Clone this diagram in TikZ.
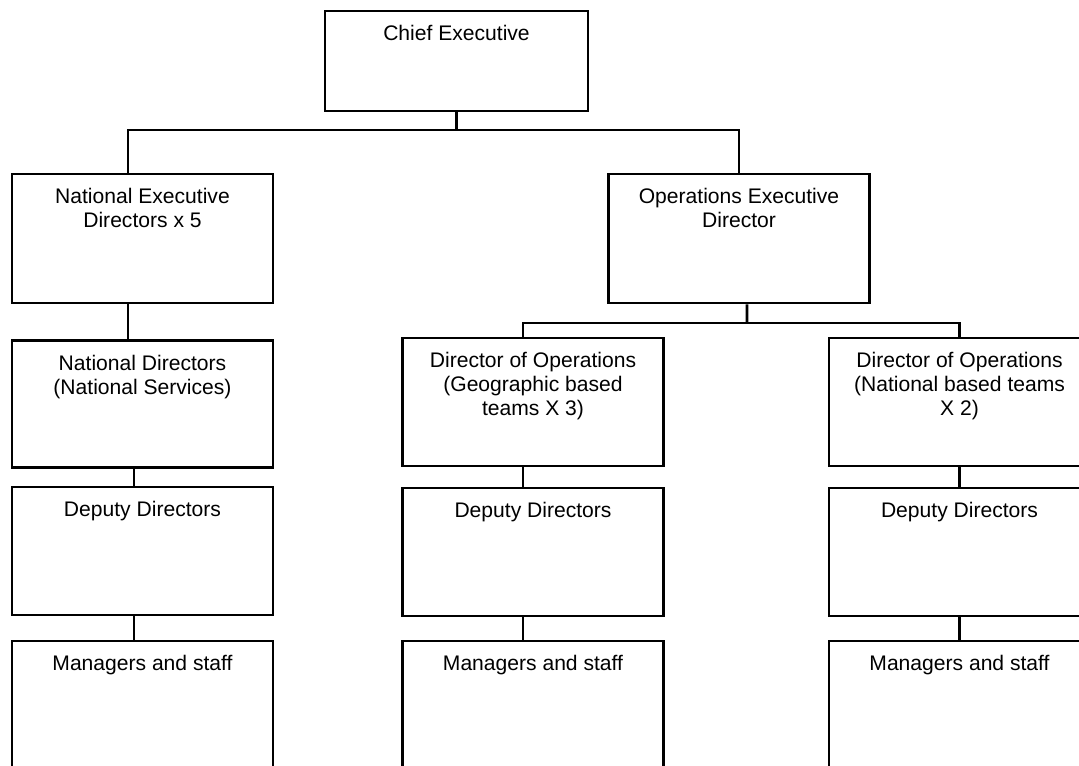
\documentclass[tikz,border=0pt]{standalone}
\usepackage{fontspec}
\setmainfont{Liberation Sans}
\usepackage{tikz}
\usetikzlibrary{positioning}

\begin{document}
\begin{tikzpicture}[
    x=0.02cm, y=-0.02cm,
    % Box styles
    post/.style={
        rectangle,
        draw=black,
        line width=1.5pt,
        minimum width=5.22cm,
        minimum height=2.56cm,
        inner sep=0pt
    },
    % Title text inside a box
    title/.style={
        font=\fontsize{12}{13.7}\selectfont,
        align=center,
        inner sep=0pt
    },
    % Connector style
    link/.style={
        line width=1.5pt,
        draw=black
    }
]

\useasboundingbox (0,0) rectangle (1079,765);
\clip (0,0) rectangle (1079,765);

% ============================================
% ROW 1: CHIEF EXECUTIVE
% ============================================
\node[post, minimum width=5.26cm, minimum height=2cm] (chief) at (456.5,61) {};
\node[title, below=8.8pt of chief.north] (chieftxt) {Chief Executive};

% ============================================
% ROW 2: EXECUTIVE DIRECTORS
% ============================================
\node[post, minimum height=2.58cm] (ned) at (142.5,238.5) {};
\node[title, below=8.8pt of ned.north] (nedtxt) {National Executive\\Directors x 5};

\node[post, minimum height=2.58cm] (oed) at (739,238.5) {};
\node[title, below=8.8pt of oed.north] (oedtxt) {Operations Executive\\Director};

% ============================================
% ROW 3: DIRECTORS
% ============================================
\node[post, minimum height=2.54cm] (nd) at (142.5,404) {};
\node[title, below=8.8pt of nd.north] (ndtxt) {National Directors\\(National Services)};

\node[post] (dgeo) at (533,402) {};
\node[title, below=8.8pt of dgeo.north] (dgeotxt) {Director of Operations\\(Geographic based\\teams X 3)};

\node[post] (dnat) at (959.5,402) {};
\node[title, below=8.8pt of dnat.north] (dnattxt) {Director of Operations\\(National based teams\\X 2)};

% ============================================
% ROW 4: DEPUTY DIRECTORS
% ============================================
\node[post] (dep1) at (142.5,551) {};
\node[title, below=8.8pt of dep1.north] (dep1txt) {Deputy Directors};

\node[post] (dep2) at (533,552) {};
\node[title, below=8.8pt of dep2.north] (dep2txt) {Deputy Directors};

\node[post] (dep3) at (959.5,552) {};
\node[title, below=8.8pt of dep3.north] (dep3txt) {Deputy Directors};

% ============================================
% ROW 5: MANAGERS AND STAFF
% ============================================
\node[post, minimum height=2.6cm] (man1) at (142.5,706) {};
\node[title, below=8.8pt of man1.north] (man1txt) {Managers and staff};

\node[post, minimum height=2.6cm] (man2) at (533,706) {};
\node[title, below=8.8pt of man2.north] (man2txt) {Managers and staff};

\node[post, minimum height=2.6cm] (man3) at (959.5,706) {};
\node[title, below=8.8pt of man3.north] (man3txt) {Managers and staff};

% ============================================
% CONNECTORS
% ============================================
% Chief -> executive directors
\coordinate (topbus) at (456.5,130);
\draw[link] (chief.south) -- (topbus);
\draw[link] ([xshift=-0.29cm]ned.north) |- (topbus) -| (oed.north);

% National column
\draw[link] ([xshift=-0.29cm]ned.south) -- ([xshift=-0.29cm]nd.north);
\draw[link] ([xshift=-0.17cm]nd.south) -- ([xshift=-0.17cm]dep1.north);
\draw[link] ([xshift=-0.17cm]dep1.south) -- ([xshift=-0.17cm]man1.north);

% Operations -> directors of operations
\coordinate (midbus) at (747,323);
\draw[link] ([xshift=0.16cm]oed.south) -- (midbus);
\draw[link] ([xshift=-0.2cm]dgeo.north) |- (midbus) -| (dnat.north);

% Geographic column
\draw[link] ([xshift=-0.2cm]dgeo.south) -- ([xshift=-0.2cm]dep2.north);
\draw[link] ([xshift=-0.2cm]dep2.south) -- ([xshift=-0.2cm]man2.north);

% National teams column
\draw[link] (dnat.south) -- (dep3.north);
\draw[link] (dep3.south) -- (man3.north);

\end{tikzpicture}
\end{document}
